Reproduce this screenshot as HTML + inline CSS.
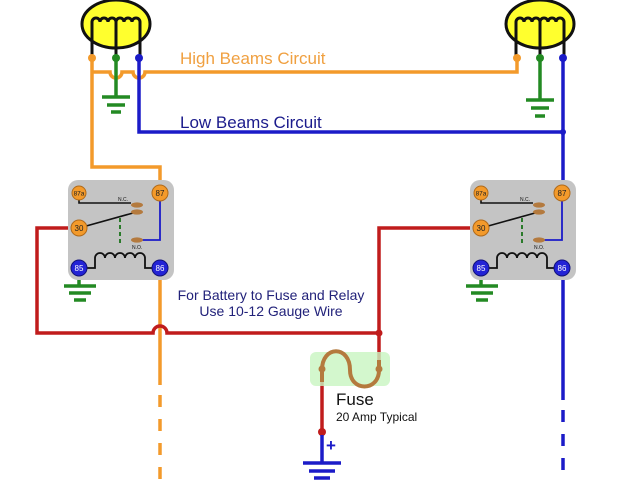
<!DOCTYPE html>
<html><head><meta charset="utf-8"><style>html,body{margin:0;padding:0;background:#fff}svg{display:block}</style></head>
<body>
<svg width="640" height="480" viewBox="0 0 640 480" xmlns="http://www.w3.org/2000/svg" font-family="Liberation Sans, sans-serif">
<defs>
<g id="relay">
  <rect x="68" y="180" width="106" height="100" rx="10" fill="#c4c4c4"/>
  <polyline points="79,193 79,203 131,203" fill="none" stroke="#111" stroke-width="1.6"/>
  <text x="118" y="201" font-size="5" fill="#111">N.C.</text>
  <line x1="79" y1="228" x2="133" y2="213" stroke="#111" stroke-width="1.6"/>
  <line x1="120" y1="218" x2="120" y2="244" stroke="#2a7a2a" stroke-width="2" stroke-dasharray="4,3"/>
  <polyline points="140,240 160,240 160,193" fill="none" stroke="#1b1bc8" stroke-width="1.8"/>
  <text x="132" y="249" font-size="5" fill="#111">N.O.</text>
  <ellipse cx="137" cy="205" rx="6" ry="2.6" fill="#b47a3e"/>
  <ellipse cx="137" cy="212" rx="6" ry="2.6" fill="#b47a3e"/>
  <ellipse cx="137" cy="240" rx="6" ry="2.6" fill="#b47a3e"/>
  <path d="M79,268 H95 V258 a5,5 0 0 1 10,0 a5,5 0 0 1 10,0 a5,5 0 0 1 10,0 a5,5 0 0 1 10,0 a5,5 0 0 1 10,0 V268 H160" fill="none" stroke="#111" stroke-width="1.8"/>
  <circle cx="79" cy="193" r="7" fill="#f39a2b" stroke="#b06a1a" stroke-width="1"/>
  <text x="79" y="195.5" font-size="6.5" text-anchor="middle" fill="#222">87a</text>
  <circle cx="160" cy="193" r="8" fill="#f39a2b" stroke="#b06a1a" stroke-width="1"/>
  <text x="160" y="196" font-size="8" text-anchor="middle" fill="#222">87</text>
  <circle cx="79" cy="228" r="8" fill="#f39a2b" stroke="#b06a1a" stroke-width="1"/>
  <text x="79" y="231" font-size="8" text-anchor="middle" fill="#222">30</text>
  <circle cx="79" cy="268" r="8" fill="#2323d6" stroke="#11117a" stroke-width="1"/>
  <text x="79" y="271" font-size="8" text-anchor="middle" fill="#fff">85</text>
  <circle cx="160" cy="268" r="8" fill="#2323d6" stroke="#11117a" stroke-width="1"/>
  <text x="160" y="271" font-size="8" text-anchor="middle" fill="#fff">86</text>
</g>
<g id="bulb">
  <ellipse cx="0" cy="24" rx="34" ry="24" fill="#ffff2e" stroke="#111" stroke-width="3"/>
  <path d="M-24,58 V22 a4,4 0 0 1 8,0 a4,4 0 0 1 8,0 a4,4 0 0 1 8,0 a4,4 0 0 1 8,0 a4,4 0 0 1 8,0 a4,4 0 0 1 8,0 V58 M0,22 V58" fill="none" stroke="#111" stroke-width="3"/>
</g>
</defs>

<!-- wires -->
<g fill="none" stroke-width="3.5">
  <!-- high beams -->
  <path d="M92,58 V167 H160 V185" stroke="#f39a2b"/>
  <path d="M92,72 H110 a6,6 0 0 0 12,0 H133 a6,6 0 0 0 12,0 H517 V58" stroke="#f39a2b"/>
  <path d="M160,276 V385" stroke="#f39a2b"/>
  <path d="M160,395 V480" stroke="#f39a2b" stroke-dasharray="12,12"/>
  <!-- low beams -->
  <path d="M139,58 V132 H563 V58" stroke="#1b1bc8"/>
  <path d="M563,132 V185 M563,276 V400" stroke="#1b1bc8"/>
  <path d="M563,410 V480" stroke="#1b1bc8" stroke-dasharray="12,12"/>
  <!-- grounds -->
  <path d="M116,58 V97 M102,97 H130 M107,105 H125 M111,112 H121" stroke="#238a23"/>
  <path d="M540,58 V100 M526,100 H554 M531,108 H549 M535,116 H545" stroke="#238a23"/>
  <path d="M79,276 V285 M64,286 H96 M69,293 H91 M74,300 H86" stroke="#238a23"/>
  <path d="M481,276 V285 M466,286 H498 M471,293 H493 M476,300 H488" stroke="#238a23"/>
  <!-- red -->
  <path d="M71,228 H37 V333 H153 a7,7 0 0 1 14,0 H379 V228 H473" stroke="#c01c1c"/>
  <path d="M379,333 V360" stroke="#c01c1c"/>
  <path d="M322,382 V432" stroke="#c01c1c"/>
</g>
<!-- fuse -->
<rect x="310" y="352" width="80" height="34" rx="6" fill="#c8f5c0" opacity="0.8"/>
<path d="M379,360 V370 C379,392 350,392 350,370 C350,345 322,345 322,370 V382" fill="none" stroke="#b47a3e" stroke-width="4"/>
<circle cx="379" cy="333" r="3.5" fill="#c01c1c"/>
<circle cx="379" cy="369" r="3.5" fill="#b47a3e"/>
<circle cx="322" cy="369" r="3.5" fill="#b47a3e"/>
<circle cx="322" cy="432" r="4" fill="#c01c1c"/>
<!-- battery -->
<path d="M322,435 V462 M303,463 H341 M309,471 H335 M314,478 H330" fill="none" stroke="#1b1bc8" stroke-width="3.5"/>
<text x="326" y="451" font-size="17" fill="#1b1bc8" font-weight="bold">+</text>

<use href="#bulb" x="116" y="0"/>
<use href="#bulb" x="540" y="0"/>
<circle cx="92" cy="58" r="4" fill="#f39a2b"/><circle cx="116" cy="58" r="4" fill="#238a23"/><circle cx="139" cy="58" r="4" fill="#1b1bc8"/>
<circle cx="517" cy="58" r="4" fill="#f39a2b"/><circle cx="540" cy="58" r="4" fill="#238a23"/><circle cx="563" cy="58" r="4" fill="#1b1bc8"/>
<circle cx="563" cy="132" r="3" fill="#1b1bc8"/>

<use href="#relay"/>
<use href="#relay" x="402"/>

<text x="180" y="64" font-size="17" fill="#f0a040">High Beams Circuit</text>
<text x="180" y="128" font-size="17" fill="#1b1b8c">Low Beams Circuit</text>
<text x="271" y="300" font-size="14" fill="#22227a" text-anchor="middle">For Battery to Fuse and Relay</text>
<text x="271" y="316" font-size="14" fill="#22227a" text-anchor="middle">Use 10-12 Gauge Wire</text>
<text x="336" y="405" font-size="17" fill="#111">Fuse</text>
<text x="336" y="421" font-size="12" fill="#111">20 Amp Typical</text>
</svg>
</body></html>
